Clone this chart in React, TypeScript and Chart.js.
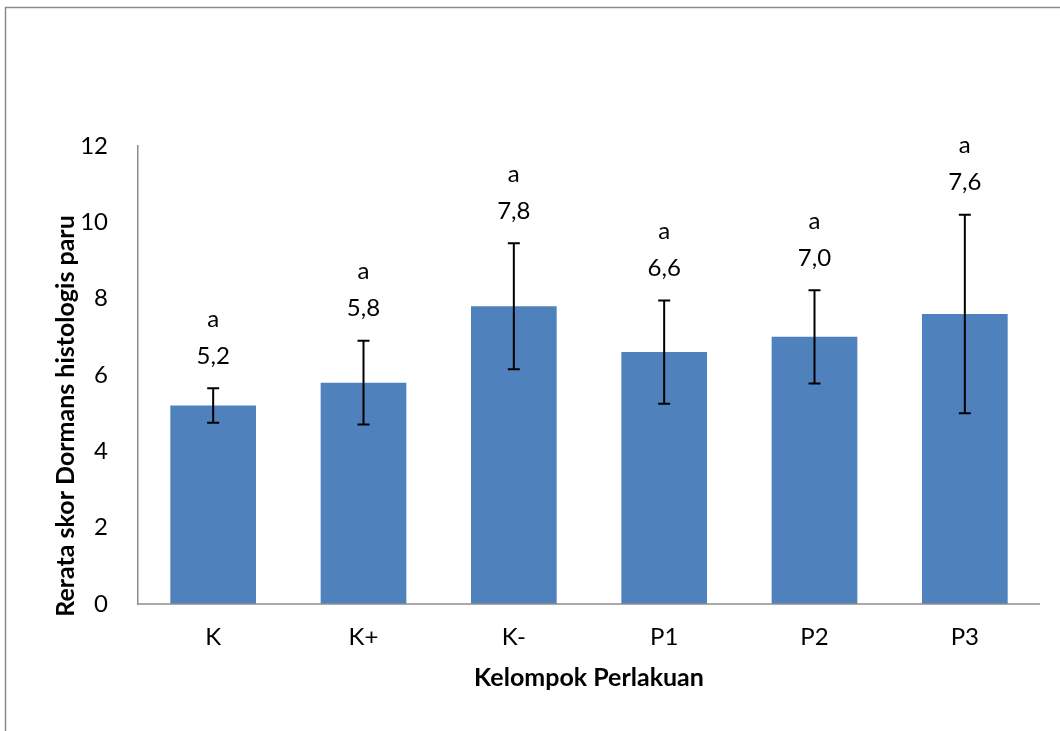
import React, { useEffect, useRef } from "react";
import { Chart, registerables } from "chart.js";

Chart.register(...registerables);

const categories = ["K", "K+", "K-", "P1", "P2", "P3"];
const means = [5.2, 5.8, 7.8, 6.6, 7.0, 7.6];
const errors = [0.45, 1.1, 1.65, 1.35, 1.22, 2.6];
const valueLabels = ["5,2", "5,8", "7,8", "6,6", "7,0", "7,6"];
const groupLetters = ["a", "a", "a", "a", "a", "a"];
const yTicks = [0, 2, 4, 6, 8, 10, 12];
const xTitle = "Kelompok Perlakuan";
const yTitle = "Rerata skor Dormans histologis paru";

const FONT = "Lato, 'Open Sans', sans-serif";

const errorBarPlugin = {
  id: "errorBars",
  afterDatasetsDraw(chart: any) {
    const ctx = chart.ctx;
    const meta = chart.getDatasetMeta(0);
    const y = chart.scales.y;
    const area = chart.chartArea;
    ctx.save();
    // x axis line
    ctx.strokeStyle = "#8c8c8c";
    ctx.lineWidth = 1.5;
    ctx.beginPath();
    ctx.moveTo(area.left, area.bottom);
    ctx.lineTo(area.right, area.bottom);
    ctx.stroke();
    meta.data.forEach((bar: any, i: number) => {
      const x = bar.x;
      const top = y.getPixelForValue(means[i] + errors[i]);
      const bot = y.getPixelForValue(means[i] - errors[i]);
      ctx.strokeStyle = "#000";
      ctx.lineWidth = 2;
      ctx.beginPath();
      ctx.moveTo(x, top);
      ctx.lineTo(x, bot);
      ctx.moveTo(x - 6, top);
      ctx.lineTo(x + 6, top);
      ctx.moveTo(x - 6, bot);
      ctx.lineTo(x + 6, bot);
      ctx.stroke();
      ctx.fillStyle = "#000";
      ctx.font = `24px ${FONT}`;
      ctx.textAlign = "center";
      ctx.textBaseline = "middle";
      ctx.fillText(valueLabels[i], x, top - 32);
      ctx.fillText(groupLetters[i], x, top - 69);
    });
    // axis titles
    ctx.font = `bold 25px ${FONT}`;
    ctx.fillStyle = "#000";
    ctx.textAlign = "center";
    ctx.textBaseline = "middle";
    ctx.fillText(xTitle, (area.left + area.right) / 2, 678);
    ctx.translate(66, 416);
    ctx.rotate(-Math.PI / 2);
    ctx.fillText(yTitle, 0, 0);
    ctx.restore();
  },
};

const framePlugin = {
  id: "frame",
  beforeDraw(chart: any) {
    const ctx = chart.ctx;
    ctx.save();
    ctx.fillStyle = "#fff";
    ctx.fillRect(0, 0, chart.width, chart.height);
    ctx.strokeStyle = "#8c8c8c";
    ctx.lineWidth = 1.5;
    ctx.beginPath();
    ctx.moveTo(5.5, chart.height);
    ctx.lineTo(5.5, 7.5);
    ctx.lineTo(chart.width, 7.5);
    ctx.stroke();
    ctx.restore();
  },
};

export default function App() {
  const ref = useRef<HTMLCanvasElement | null>(null);
  useEffect(() => {
    if (!ref.current) return;
    const chart = new Chart(ref.current, {
      type: "bar",
      data: {
        labels: categories,
        datasets: [
          {
            data: means,
            backgroundColor: "#4F81BD",
            borderWidth: 0,
            categoryPercentage: 1,
            barPercentage: 0.57,
          },
        ],
      },
      options: {
        animation: false,
        responsive: false,
        maintainAspectRatio: false,
        layout: { padding: { top: 146, right: 20, left: 0, bottom: 0 } },
        plugins: {
          legend: { display: false },
          tooltip: { enabled: false },
        },
        scales: {
          x: {
            grid: { display: false, drawTicks: false },
            border: { display: false },
            ticks: {
              color: "#000",
              font: { family: FONT, size: 24 },
              padding: 19,
            },
            afterFit(scale: any) {
              scale.height = 731 - 604;
            },
          },
          y: {
            min: 0,
            max: 12,
            afterBuildTicks(scale: any) {
              scale.ticks = yTicks.map((v) => ({ value: v }));
            },
            grid: { display: false, drawTicks: false },
            border: { display: true, color: "#8c8c8c", width: 1.5 },
            ticks: {
              color: "#000",
              font: { family: FONT, size: 24 },
              padding: 30,
            },
            afterFit(scale: any) {
              scale.width = 138;
            },
          },
        },
      },
      plugins: [framePlugin, errorBarPlugin],
    });
    return () => chart.destroy();
  }, []);
  return (
    <div style={{ position: "fixed", left: 0, top: 0, width: 1060, height: 731 }}>
      <canvas ref={ref} width={1060} height={731} style={{ width: 1060, height: 731 }} />
    </div>
  );
}
